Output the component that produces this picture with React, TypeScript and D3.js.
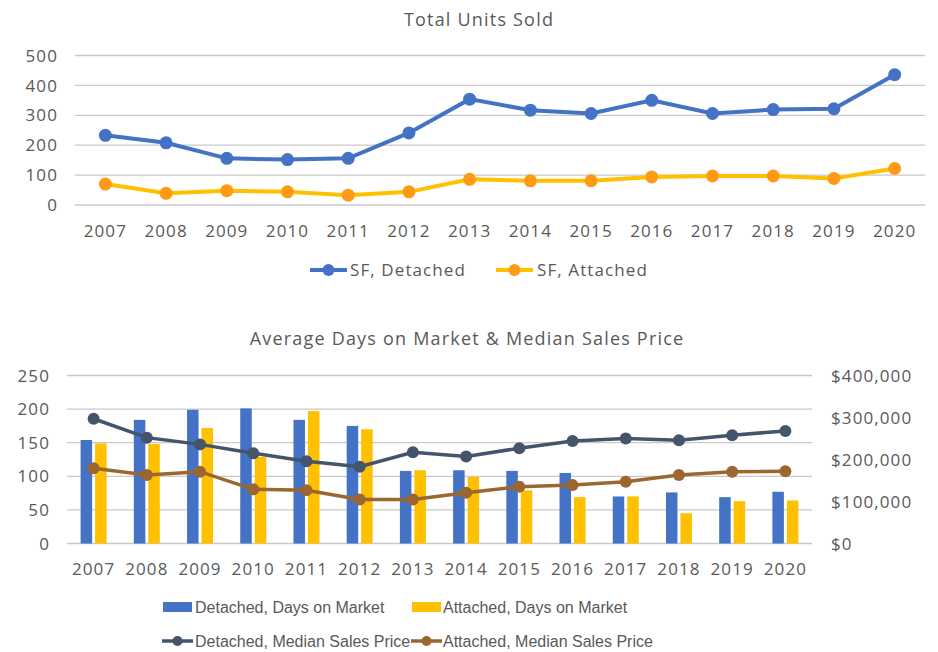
import React from "react";
import * as d3 from "d3";

const years = [
  "2007", "2008", "2009", "2010", "2011", "2012", "2013",
  "2014", "2015", "2016", "2017", "2018", "2019", "2020",
];

// Total units sold
const sfDetached = [233, 208, 156, 152, 156, 241, 354, 317, 306, 350, 306, 319, 322, 436];
const sfAttached = [70, 39, 48, 44, 33, 44, 86, 81, 81, 94, 97, 97, 89, 122];

// Days on market
const detachedDays = [154, 184, 199, 201, 184, 175, 108, 109, 108, 105, 70, 76, 69, 77];
const attachedDays = [149, 148, 172, 129, 197, 170, 109, 99, 79, 69, 70, 45, 63, 64];

// Median sales price
const detachedPrice = [297000, 252000, 236000, 215000, 196000, 183000, 217000, 207000, 227000, 244000, 250000, 246000, 258000, 268000];
const attachedPrice = [179000, 163000, 171000, 129000, 127000, 105000, 105000, 121000, 135000, 139000, 147000, 163000, 171000, 172000];

const topTicks = [0, 100, 200, 300, 400, 500];
const daysTicks = [0, 50, 100, 150, 200, 250];
const priceTicks = [0, 100000, 200000, 300000, 400000];

const FONT = "'Open Sans', Lato, sans-serif";
const LEGEND_FONT = "'Liberation Sans', Arial, sans-serif";
const TEXT = "#595959";
const GRID = "#C9C9C9";
const BLUE = "#4472C4";
const YELLOW = "#FFC000";
const ORANGE = "#FF9A16";
const NAVY = "#44546A";
const BROWN = "#9C6630";

export default function App() {
  const width = 938;
  const height = 652;

  // top chart
  const x1 = d3.scaleBand().domain(years).range([75, 925]);
  const y1 = d3.scaleLinear().domain([0, 500]).range([205, 55.5]);
  const cx1 = (d: string) => (x1(d) as number) + x1.bandwidth() / 2;
  const line1 = d3
    .line<number>()
    .x((_, i) => cx1(years[i]))
    .y((d) => y1(d));

  // bottom chart
  const x2 = d3.scaleBand().domain(years).range([67, 812]);
  const y2 = d3.scaleLinear().domain([0, 250]).range([543.5, 375.5]);
  const y2r = d3.scaleLinear().domain([0, 400000]).range([543.5, 375.5]);
  const cx2 = (d: string) => (x2(d) as number) + x2.bandwidth() / 2;
  const line2 = d3
    .line<number>()
    .x((_, i) => cx2(years[i]))
    .y((d) => y2r(d));
  const barW = 11.5;
  const barGap = 3;
  const money = (v: number) => "$" + d3.format(",")(v);

  const textStyle = { fontFamily: FONT, fill: TEXT, fontSize: 17, letterSpacing: 1.1 };
  const titleStyle = { ...textStyle, fontSize: 18, letterSpacing: 1.2 };
  const legendStyle = { fontFamily: LEGEND_FONT, fill: TEXT, fontSize: 16 };

  return (
    <svg
      width={width}
      height={height}
      style={{ position: "absolute", left: 0, top: 0, background: "#fff" }}
    >
      {/* ---------- Total Units Sold ---------- */}
      <text x={479} y={26} textAnchor="middle" style={titleStyle}>
        Total Units Sold
      </text>
      {topTicks.map((t) => (
        <g key={t}>
          <line x1={75} x2={925} y1={y1(t)} y2={y1(t)} stroke={GRID} strokeWidth={1.3} />
          <text x={58} y={y1(t)} dy="0.36em" textAnchor="end" style={textStyle}>
            {t}
          </text>
        </g>
      ))}
      {years.map((yr) => (
        <text key={yr} x={cx1(yr)} y={237} textAnchor="middle" style={textStyle}>
          {yr}
        </text>
      ))}
      <path d={line1(sfDetached) || ""} fill="none" stroke={BLUE} strokeWidth={4} />
      {sfDetached.map((v, i) => (
        <circle key={i} cx={cx1(years[i])} cy={y1(v)} r={6.5} fill={BLUE} />
      ))}
      <path d={line1(sfAttached) || ""} fill="none" stroke={YELLOW} strokeWidth={4} />
      {sfAttached.map((v, i) => (
        <circle key={i} cx={cx1(years[i])} cy={y1(v)} r={6.5} fill={ORANGE} />
      ))}

      {/* top legend */}
      <line x1={310} x2={347} y1={270} y2={270} stroke={BLUE} strokeWidth={4} />
      <circle cx={328.5} cy={270} r={6} fill={BLUE} />
      <text x={350} y={270} dy="0.36em" style={textStyle}>
        SF, Detached
      </text>
      <line x1={496} x2={533} y1={270} y2={270} stroke={YELLOW} strokeWidth={4} />
      <circle cx={514.5} cy={270} r={6} fill={ORANGE} />
      <text x={537} y={270} dy="0.36em" style={textStyle}>
        SF, Attached
      </text>

      {/* ---------- Days on Market & Price ---------- */}
      <text x={467} y={345} textAnchor="middle" style={titleStyle}>
        Average Days on Market &amp; Median Sales Price
      </text>
      {daysTicks.map((t) => (
        <g key={t}>
          <line x1={67} x2={812} y1={y2(t)} y2={y2(t)} stroke={GRID} strokeWidth={1.3} />
          <text x={50} y={y2(t)} dy="0.36em" textAnchor="end" style={textStyle}>
            {t}
          </text>
        </g>
      ))}
      {priceTicks.map((t) => (
        <text key={t} x={831} y={y2r(t)} dy="0.36em" style={textStyle}>
          {money(t)}
        </text>
      ))}
      {years.map((yr) => (
        <text key={yr} x={cx2(yr)} y={575} textAnchor="middle" style={textStyle}>
          {yr}
        </text>
      ))}
      {detachedDays.map((v, i) => (
        <rect
          key={"d" + i}
          x={cx2(years[i]) - barGap / 2 - barW}
          y={y2(v)}
          width={barW}
          height={y2(0) - y2(v)}
          fill={BLUE}
        />
      ))}
      {attachedDays.map((v, i) => (
        <rect
          key={"a" + i}
          x={cx2(years[i]) + barGap / 2}
          y={y2(v)}
          width={barW}
          height={y2(0) - y2(v)}
          fill={YELLOW}
        />
      ))}
      <path d={line2(detachedPrice) || ""} fill="none" stroke={NAVY} strokeWidth={3.5} />
      {detachedPrice.map((v, i) => (
        <circle key={i} cx={cx2(years[i])} cy={y2r(v)} r={6} fill={NAVY} />
      ))}
      <path d={line2(attachedPrice) || ""} fill="none" stroke={BROWN} strokeWidth={3.5} />
      {attachedPrice.map((v, i) => (
        <circle key={i} cx={cx2(years[i])} cy={y2r(v)} r={6} fill={BROWN} />
      ))}

      {/* bottom legend */}
      <rect x={163} y={602} width={29} height={10} fill={BLUE} />
      <text x={195} y={607} dy="0.36em" style={legendStyle}>
        Detached, Days on Market
      </text>
      <rect x={412} y={602} width={29} height={10} fill={YELLOW} />
      <text x={443} y={607} dy="0.36em" style={legendStyle}>
        Attached, Days on Market
      </text>
      <line x1={162} x2={193} y1={641} y2={641} stroke={NAVY} strokeWidth={3.5} />
      <circle cx={177.5} cy={641} r={5} fill={NAVY} />
      <text x={195} y={641} dy="0.36em" style={legendStyle}>
        Detached, Median Sales Price
      </text>
      <line x1={411} x2={442} y1={641} y2={641} stroke={BROWN} strokeWidth={3.5} />
      <circle cx={426.5} cy={641} r={5} fill={BROWN} />
      <text x={443} y={641} dy="0.36em" style={legendStyle}>
        Attached, Median Sales Price
      </text>
    </svg>
  );
}
